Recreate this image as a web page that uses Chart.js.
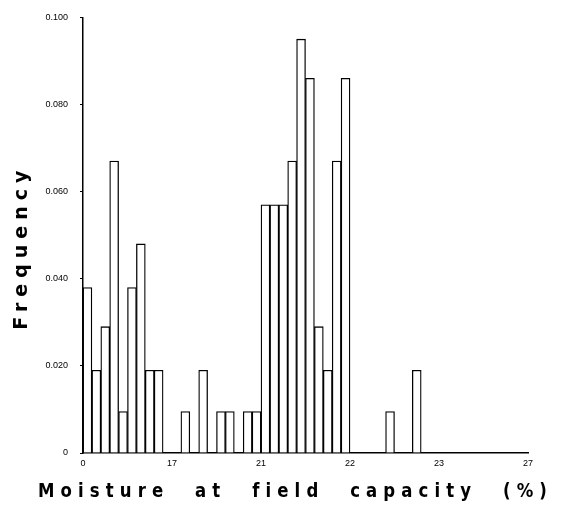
<!DOCTYPE html>
<html>
<head>
<meta charset="utf-8">
<script src="https://cdn.jsdelivr.net/npm/chart.js@4/dist/chart.umd.min.js"></script>
<style>
  html, body { margin: 0; padding: 0; background: #fff; }
  #wrap { width: 564px; height: 508px; }
</style>
</head>
<body>
<div id="wrap"><canvas id="chart" width="564" height="508"></canvas></div>
<script>
// Histogram bins (50 equal-width classes); x position is the bin index
const binCount = 50;
const frequencies = [
  0.038, 0.019, 0.029, 0.067, 0.0095, 0.038, 0.048, 0.019, 0.019, 0,
  0, 0.0095, 0, 0.019, 0, 0.0095, 0.0095, 0, 0.0095, 0.0095,
  0.057, 0.057, 0.057, 0.067, 0.095, 0.086, 0.029, 0.019, 0.067, 0.086,
  0, 0, 0, 0, 0.0095, 0, 0, 0.019, 0, 0,
  0, 0, 0, 0, 0, 0, 0, 0, 0, 0
];
const xTickPositions = [0, 10, 20, 30, 40, 50];
const xTickLabels = ['0', '17', '21', '22', '23', '27'];
const yTickLabels = ['0', '0.020', '0.040', '0.060', '0.080', '0.100'];
const xTitle = 'Moisture at field capacity (%)';
const yTitle = 'Frequency';

const points = frequencies.map((f, i) => ({ x: i + 0.5, y: f }));

// Wide-tracked axis titles: canvas letter/word spacing, and the x title may run
// past the plot edges (extendStart/extendEnd) instead of being squeezed to fit
const titleStyle = {
  x: { letter: '7px', word: '16px', extendStart: 45, extendEnd: 25, dy: 0 },
  y: { letter: '6px', word: '0px', extendStart: 0, extendEnd: 0, dy: 12 }
};
const spacedTitles = {
  id: 'spacedTitles',
  beforeDraw(chart) {
    for (const [id, scale] of Object.entries(chart.scales)) {
      if (scale._spacedTitle) continue;
      const original = scale.drawTitle;
      const st = titleStyle[id];
      scale.drawTitle = function () {
        const ctx = this.ctx;
        const left = this.left, right = this.right;
        this.left = left - st.extendStart;
        this.right = right + st.extendEnd;
        ctx.save();
        ctx.translate(0, st.dy);
        ctx.letterSpacing = st.letter;
        ctx.wordSpacing = st.word;
        original.call(this);
        ctx.restore();
        this.left = left;
        this.right = right;
      };
      scale._spacedTitle = true;
    }
  }
};

const tickFont = { family: 'Liberation Sans', size: 9 };
const titleFont = { family: 'DejaVu Sans', size: 19, weight: 'bold' };

new Chart(document.getElementById('chart'), {
  type: 'bar',
  data: {
    datasets: [{
      data: points,
      backgroundColor: '#ffffff',
      borderColor: '#000000',
      borderWidth: 1.3,
      barPercentage: 1,
      categoryPercentage: 1
    }]
  },
  options: {
    responsive: false,
    animation: false,
    layout: { padding: { left: 0, right: 36, top: 17, bottom: 0 } },
    plugins: { legend: { display: false }, tooltip: { enabled: false } },
    scales: {
      x: {
        type: 'linear',
        offset: false,
        min: 0,
        max: binCount,
        afterBuildTicks(scale) { scale.ticks = xTickPositions.map(v => ({ value: v })); },
        afterFit(scale) { scale.height = 55; },
        grid: { display: false, drawTicks: false, offset: false },
        border: { display: true, color: '#000', width: 1.5 },
        ticks: {
          color: '#000', font: tickFont, padding: 5, maxRotation: 0, autoSkip: false,
          callback: (v, i) => xTickLabels[i]
        },
        title: {
          display: true, text: xTitle, color: '#000', font: titleFont,
          padding: { top: 0, bottom: 5 }
        }
      },
      y: {
        min: 0,
        max: 0.1,
        afterBuildTicks(scale) { scale.ticks = yTickLabels.map((t, i) => ({ value: i * 0.02 })); },
        afterFit(scale) { scale.width = 83; },
        grid: { display: true, drawOnChartArea: false, drawTicks: true, tickLength: 3, color: '#000', tickWidth: 1 },
        border: { display: true, color: '#000', width: 1.5 },
        ticks: {
          color: '#000', font: tickFont, padding: 12,
          callback: (v, i) => yTickLabels[i]
        },
        title: {
          display: true, text: yTitle, color: '#000', font: titleFont,
          padding: { top: 11, bottom: 0 }
        }
      }
    }
  },
  plugins: [spacedTitles]
});
</script>
</body>
</html>
